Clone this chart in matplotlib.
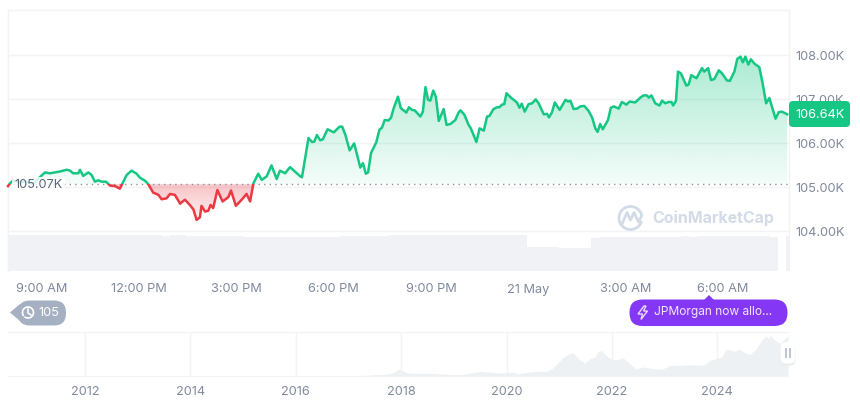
import matplotlib
matplotlib.use("Agg")
import matplotlib.pyplot as plt
import numpy as np
from matplotlib.patches import Arc, FancyBboxPatch, PathPatch, Polygon, Rectangle
from matplotlib.path import Path

plt.rcParams['font.family'] = ['Inter', 'DejaVu Sans']

# hours since midnight of the previous day (24 = 21 May), price in thousands
hours = [7.95, 8.01, 8.11, 8.32, 8.52, 8.73, 8.93, 9.09, 9.24, 9.40, 9.55, 9.76, 9.86, 9.96, 10.12, 10.17,
         10.27, 10.43, 10.53, 10.63, 10.73, 10.84, 10.97, 11.10, 11.25, 11.40, 11.51, 11.61, 11.76, 11.92,
         12.02, 12.18, 12.28, 12.43, 12.59, 12.69, 12.84, 12.95, 13.10, 13.26, 13.41, 13.56, 13.67, 13.77,
         13.87, 13.92, 14.03, 14.13, 14.20, 14.28, 14.41, 14.57, 14.75, 14.83, 14.98, 15.16, 15.31, 15.42,
         15.52, 15.67, 15.78, 15.93, 16.08, 16.24, 16.34, 16.50, 16.65, 16.80, 16.97, 17.02, 17.22, 17.33,
         17.40, 17.48, 17.58, 17.66, 17.81, 18.00, 18.18, 18.26, 18.36, 18.49, 18.63, 18.82, 18.90, 18.99,
         19.06, 19.15, 19.31, 19.41, 19.49, 19.57, 19.69, 19.77, 19.85, 19.98, 20.07, 20.24, 20.32, 20.41,
         20.50, 20.62, 20.67, 20.75, 20.83, 20.91, 20.98, 21.07, 21.15, 21.24, 21.39, 21.48, 21.60, 21.75,
         21.85, 21.91, 22.03, 22.16, 22.23, 22.40, 22.50, 22.63, 22.73, 22.80, 22.93, 23.04, 23.11, 23.19,
         23.26, 23.33, 23.45, 23.55, 23.65, 23.73, 23.80, 23.89, 24.01, 24.12, 24.23, 24.32, 24.48, 24.58,
         24.64, 24.73, 24.82, 24.97, 25.15, 25.23, 25.30, 25.40, 25.51, 25.61, 25.73, 25.86, 25.97, 26.07,
         26.14, 26.22, 26.30, 26.46, 26.55, 26.64, 26.79, 26.89, 27.03, 27.13, 27.30, 27.46, 27.56, 27.66,
         27.72, 27.80, 27.92, 28.05, 28.13, 28.23, 28.33, 28.42, 28.47, 28.56, 28.62, 28.71, 28.88, 28.95,
         29.03, 29.19, 29.36, 29.43, 29.55, 29.64, 29.74, 29.88, 29.98, 30.13, 30.22, 30.36, 30.45, 30.55,
         30.62, 30.70, 30.79, 30.87, 30.98, 31.13, 31.23, 31.34, 31.44, 31.63, 31.73, 31.83, 31.99]
prices = [105.03, 105.09, 105.16, 105.11, 105.13, 105.09, 105.23, 105.34, 105.32, 105.34, 105.36, 105.40, 105.38,
          105.32, 105.32, 105.40, 105.26, 105.34, 105.28, 105.13, 105.16, 105.13, 105.13, 105.04, 105.03, 104.97,
          105.13, 105.28, 105.38, 105.31, 105.22, 105.15, 105.07, 104.88, 104.83, 104.73, 104.75, 104.85, 104.83,
          104.63, 104.72, 104.60, 104.50, 104.26, 104.32, 104.58, 104.45, 104.47, 104.60, 104.53, 104.94, 104.68,
          104.78, 104.93, 104.58, 104.72, 104.85, 104.68, 105.09, 105.31, 105.17, 105.25, 105.50, 105.19, 105.38,
          105.32, 105.46, 105.36, 105.25, 105.23, 106.12, 106.03, 106.04, 106.19, 106.07, 106.09, 106.32, 106.25,
          106.38, 106.38, 106.19, 105.84, 106.00, 105.45, 105.55, 105.31, 105.34, 105.78, 106.02, 106.31, 106.36,
          106.53, 106.52, 106.59, 106.80, 107.06, 106.80, 106.70, 106.82, 106.76, 106.75, 106.65, 106.61, 106.72,
          107.28, 106.99, 106.97, 107.20, 107.06, 106.51, 106.78, 106.42, 106.44, 106.53, 106.70, 106.75, 106.65,
          106.42, 106.34, 106.03, 106.34, 106.29, 106.61, 106.62, 106.78, 106.82, 106.82, 106.88, 106.89, 107.14,
          107.05, 106.99, 106.93, 106.81, 106.90, 106.72, 106.89, 106.91, 107.00, 106.91, 106.66, 106.67, 106.59,
          106.70, 106.93, 106.76, 106.99, 106.95, 106.97, 106.78, 106.79, 106.84, 106.85, 106.74, 106.59, 106.34,
          106.26, 106.44, 106.32, 106.53, 106.81, 106.84, 106.79, 106.94, 106.88, 106.95, 106.93, 107.04, 107.09,
          107.09, 107.04, 107.09, 106.91, 106.86, 106.97, 106.91, 106.94, 106.94, 106.86, 106.97, 107.63, 107.59,
          107.31, 107.34, 107.55, 107.48, 107.71, 107.63, 107.71, 107.44, 107.46, 107.66, 107.59, 107.43, 107.42,
          107.63, 107.92, 107.97, 107.84, 107.97, 107.79, 107.91, 107.81, 107.73, 107.37, 106.91, 107.03, 106.56,
          106.71, 106.72, 106.66]
base_price = 105.07
last_price = 106.64

# 15 minute volume bars
volumes = [36.0, 35.6, 36.0, 36.2, 35.8, 36.0, 35.7, 36.1, 36.0, 35.8, 35.9, 36.1, 36.0, 35.6, 36.2, 36.0,
           35.8, 35.9, 35.6, 35.5, 35.7, 35.8, 35.4, 35.5, 35.3, 35.2, 35.0, 34.8, 34.6, 34.5, 34.4, 34.3,
           34.5, 34.2, 34.0, 33.9, 34.0, 33.8, 34.0, 34.2, 34.4, 34.8, 35.0, 35.2, 35.4, 35.2, 35.5, 35.6,
           35.8, 35.6, 36.0, 36.2, 36.1, 36.3, 36.0, 36.2, 36.4, 36.1, 36.3, 36.5, 36.4, 36.2, 36.4, 36.3,
           24.0, 24.0, 23.8, 23.6, 23.5, 23.3, 23.2, 23.4, 33.5, 33.6, 33.8, 33.6, 33.9, 34.0, 34.2, 34.0,
           34.4, 34.2, 34.5, 34.6, 34.4, 34.8, 34.9, 34.7, 35.0, 34.8, 34.9, 35.0, 34.7, 34.8, 34.5, 0.0, 34.6]
volume_start = 7.95
volume_step = 0.25

# long range history, year and price in thousands
years = [2010.54, 2013.0, 2014.0, 2015.0, 2016.0, 2017.0, 2017.35, 2017.54, 2017.73, 2017.85, 2017.95, 2018.01, 2018.10,
         2018.23, 2018.42, 2018.61, 2018.93, 2019.18, 2019.37, 2019.50, 2019.69, 2019.88, 2020.13, 2020.22, 2020.44,
         2020.63, 2020.76, 2020.88, 2020.98, 2021.07, 2021.17, 2021.26, 2021.36, 2021.48, 2021.58, 2021.67, 2021.74,
         2021.80, 2021.93, 2022.02, 2022.12, 2022.21, 2022.34, 2022.45, 2022.59, 2022.85, 2022.97, 2023.10, 2023.29,
         2023.48, 2023.73, 2023.86, 2023.98, 2024.08, 2024.17, 2024.27, 2024.33, 2024.40, 2024.52, 2024.62, 2024.74,
         2024.84, 2024.92, 2024.97, 2025.01, 2025.09, 2025.19, 2025.28, 2025.34]
history = [0.0, 0.1, 0.6, 0.3, 0.4, 1.0, 1.8, 3.5, 5.0, 9.0, 17.7, 15.0, 9.0, 7.0, 7.0, 7.0, 3.5, 4.0, 9.0, 12.0, 10.0, 8.0,
           9.7, 6.0, 10.6, 12.4, 12.4, 21.0, 35.0, 49.0, 57.0, 62.0, 46.0, 34.0, 46.0, 49.0, 65.0, 67.0, 49.0, 43.0, 44.0,
           48.0, 33.0, 19.0, 24.0, 18.0, 19.0, 28.0, 28.0, 30.0, 28.0, 41.0, 46.0, 50.0, 71.0, 68.0, 65.0, 71.0, 62.0,
           57.0, 72.0, 94.0, 106.0, 99.0, 108.0, 94.0, 86.0, 99.0, 106.0]

time_ticks = [9, 12, 15, 18, 21, 24, 27, 30]
time_labels = ['9:00 AM', '12:00 PM', '3:00 PM', '6:00 PM', '9:00 PM', '21 May', '3:00 AM', '6:00 AM']
price_ticks = [104, 105, 106, 107, 108]
year_ticks = [2012, 2014, 2016, 2018, 2020, 2022, 2024]

GREEN = '#16c784'
RED = '#ea3943'
GRID = '#f1f3f6'
TICK = '#808a9d'
W, H = 860, 401


def px_axes(fig, x0, y0, x1, y1, **kw):
    return fig.add_axes([x0 / W, 1 - y1 / H, (x1 - x0) / W, (y1 - y0) / H], **kw)


def gradient(ax, clip, rgb, a_top, a_bottom, y_top, y_bottom):
    img = np.zeros((128, 2, 4))
    img[..., :3] = matplotlib.colors.to_rgb(rgb)
    img[..., 3] = np.linspace(a_top, a_bottom, 128)[:, None]
    im = ax.imshow(img, extent=[hours[0], hours[-1], y_bottom, y_top], aspect='auto', zorder=1.5, interpolation='bilinear')
    paths = clip.get_paths()
    im.set_clip_path(PathPatch(Path.make_compound_path(*paths), transform=ax.transData))
    clip.remove()


fig = plt.figure(figsize=(W / 100, H / 100), dpi=100, facecolor='white')

# main price panel
ax = px_axes(fig, 8, 10, 788.5, 271)
p = np.array(prices)
up = ax.fill_between(hours, p, base_price, where=p >= base_price, interpolate=True, lw=0)
down = ax.fill_between(hours, p, base_price, where=p <= base_price, interpolate=True, lw=0)
gradient(ax, up, GREEN, 0.36, 0.05, 108.0, base_price)
gradient(ax, down, RED, 0.30, 0.05, base_price, 104.2)
ax.set_xlim(7.95, 32.03)
ax.set_ylim(103.10, 109.03)
ax.set_yticks(price_ticks)
ax.set_yticklabels(['%.2fK' % v for v in price_ticks])
ax.yaxis.tick_right()
ax.set_xticks(time_ticks)
ax.set_xticklabels(time_labels)
ax.tick_params(axis='y', length=0, labelsize=9.2, labelcolor=TICK, pad=5)
ax.tick_params(axis='x', length=0, labelsize=9.2, labelcolor=TICK, pad=9)
ax.grid(axis='y', color=GRID, lw=1)
ax.set_axisbelow(True)
for side in ['top', 'left', 'right']:
    ax.spines[side].set_color(GRID)
    ax.spines[side].set_linewidth(1)
ax.spines['bottom'].set_visible(False)

ax.axhline(base_price, color='#8d94a0', lw=1, ls=(0, (1, 3)), zorder=2)
above = ax.plot(hours, prices, color=GREEN, lw=1.8, zorder=3, solid_joinstyle='round')[0]
below = ax.plot(hours, prices, color=RED, lw=1.8, zorder=3, solid_joinstyle='round')[0]
above.set_clip_path(Rectangle((7, base_price), 30, 10, transform=ax.transData))
below.set_clip_path(Rectangle((7, base_price - 10), 30, 10, transform=ax.transData))

ax.text(8.15, base_price - 0.01, '%.2fK' % base_price, fontsize=9.2, color='#58667e', va='center', ha='left', zorder=4,
        bbox=dict(fc='white', ec='none', alpha=0.82, pad=1.5))

# volume bars
vax = px_axes(fig, 8, 233, 788.5, 271)
vax.patch.set_alpha(0)
vol_x = [volume_start + i * volume_step for i in range(len(volumes))]
vax.bar(vol_x, volumes, width=volume_step, align='edge', color='#f0f2f5', lw=0)
vax.set_xlim(7.95, 32.03)
vax.set_ylim(0, 38)
vax.axis('off')

# history navigator
nav = px_axes(fig, 8, 332, 788.5, 376)
nav.fill_between(years, history, 0, color='#eef1f4', lw=0)
nav.set_xlim(2010.54, 2025.35)
nav.set_ylim(0, 116)
nav.set_xticks(year_ticks)
nav.set_xticklabels([str(y) for y in year_ticks])
nav.set_yticks([])
nav.tick_params(axis='x', length=0, labelsize=9.2, labelcolor=TICK, pad=7)
nav.grid(axis='x', color='#f3f4f6', lw=1)
nav.set_axisbelow(True)
for side in ['left', 'right']:
    nav.spines[side].set_visible(False)
for side in ['top', 'bottom']:
    nav.spines[side].set_color(GRID)

# overlay in pixel units for watermark, price tag, pills and handle
top = fig.add_axes([0, 0, 1, 1], zorder=10)
top.set_xlim(0, W)
top.set_ylim(H, 0)
top.axis('off')

top.add_patch(FancyBboxPatch((789, 101), 61, 26, boxstyle='round,pad=0,rounding_size=4', fc=GREEN, ec='none'))
top.text(795, 114.5, '%.2fK' % last_price, fontsize=9.2, color='white', va='center', ha='left')

WM = '#d3dbe7'
top.text(652, 218.5, 'CoinMarketCap', fontsize=11.5, fontweight='bold', color=WM, va='center', ha='left')
top.add_patch(Arc((630.5, 218), 23, 23, theta1=15, theta2=345, color=WM, lw=2))
top.plot([622, 627, 630.5, 634, 638.5, 641.5], [224, 212.5, 220, 212.5, 222, 216], color=WM, lw=2)

grey = '#a6b0c3'
top.add_patch(FancyBboxPatch((18, 300.5), 48, 25, boxstyle='round,pad=0,rounding_size=12', fc=grey, ec='none'))
top.add_patch(Polygon([[10, 312.5], [20, 304], [20, 321]], fc=grey, ec='none'))
top.add_patch(Arc((28, 312.5), 11, 11, theta1=-220, theta2=130, color='white', lw=1.2))
top.plot([28, 28, 31], [309, 313, 315], color='white', lw=1.1)
top.text(38.5, 312.5, '105', fontsize=9.2, color='white', va='center', ha='left')

purple = '#8438f5'
top.add_patch(FancyBboxPatch((629.5, 299.5), 158, 26.5, boxstyle='round,pad=0,rounding_size=13', fc=purple, ec='none'))
top.add_patch(Polygon([[704, 300], [709, 295], [714, 300]], fc=purple, ec='none'))
top.add_patch(Polygon([[644, 306], [638, 314], [642.5, 314], [641, 319.5], [647.5, 311], [643.5, 311], [646, 306]],
                      fc='none', ec='#ead9ff', lw=1))
top.text(654, 312.5, 'JPMorgan now allo...', fontsize=8.6, color='#f0e6ff', va='center', ha='left')

for off, col in [(1.5, '#e4e7ec'), (0.7, '#eef0f3')]:
    top.add_patch(FancyBboxPatch((780.5, 342 + off), 15, 22, boxstyle='round,pad=0,rounding_size=6', fc=col, ec='none'))
top.add_patch(FancyBboxPatch((780.5, 342), 15, 21.5, boxstyle='round,pad=0,rounding_size=6', fc='white', ec='none'))
top.plot([786, 786], [348.5, 357], color='#b8bfcc', lw=1.3)
top.plot([790, 790], [348.5, 357], color='#b8bfcc', lw=1.3)

fig.savefig('out.png', dpi=100)
